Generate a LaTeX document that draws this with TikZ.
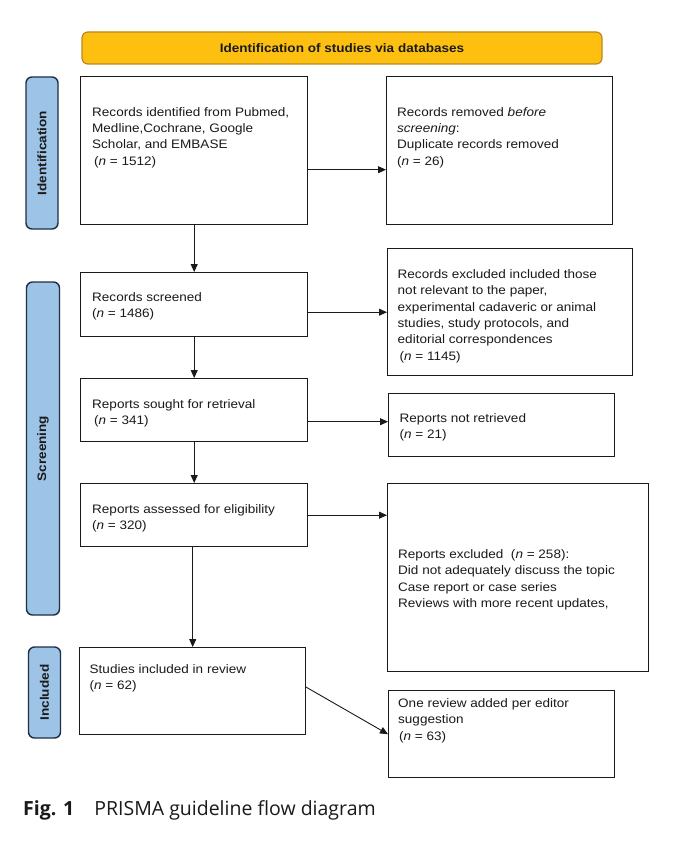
\documentclass[tikz,border=0pt]{standalone}
\usepackage{fontspec}
\setmainfont{Liberation Sans}[FakeStretch=1.1]
\newfontfamily\capfont{Open Sans}
\usetikzlibrary{arrows.meta,calc}
\definecolor{tabblue}{HTML}{9DC3E6}
\definecolor{tabedge}{HTML}{1F2F45}
\definecolor{gold}{HTML}{FDC010}
\definecolor{goldedge}{HTML}{B8891A}
\definecolor{ink}{HTML}{1A1A1A}
\begin{document}
\begin{tikzpicture}[x=1pt,y=-1pt,
  box/.style={draw=ink,line width=1.4pt,inner sep=0pt,anchor=north west,fill=white},
  txt/.style={anchor=north west,inner sep=0pt,align=left,font=\fontsize{12.3pt}{16.4pt}\selectfont,text=ink},
  tab/.style={draw=tabedge,fill=tabblue,line width=1.4pt,rounded corners=6pt,inner sep=0pt},
  tabtxt/.style={rotate=90,font=\fontsize{12.3pt}{14pt}\selectfont\bfseries,text=ink},
  arr/.style={draw=ink,line width=0.9pt,-{Triangle[length=8pt,width=7pt]}}]
\useasboundingbox (0,0) rectangle (678,850);
\fill[white] (0,0) rectangle (678,850);
% title
\node[draw=goldedge,fill=gold,line width=1.2pt,rounded corners=6pt,minimum width=520pt,minimum height=32pt,inner sep=0pt,font=\fontsize{12.3pt}{14pt}\selectfont\bfseries,text=ink] (title) at (342,48) {Identification of studies via databases};
% tabs
\node[tab,minimum width=32pt,minimum height=152pt] (tid) at (42,153) {};
\node[tabtxt] (tidt) at (tid.center) {Identification};
\node[tab,minimum width=33pt,minimum height=333pt] (tsc) at (43,448.5) {};
\node[tabtxt] (tsct) at (tsc.center) {Screening};
\node[tab,minimum width=32pt,minimum height=91pt] (tin) at (44.5,692.5) {};
\node[tabtxt] (tint) at (tin.center) {Included};
% boxes
\node[box,minimum width=227pt,minimum height=148pt] (A) at (80,76) {};
\node[box,minimum width=226pt,minimum height=148pt] (B) at (386,76) {};
\node[box,minimum width=227pt,minimum height=63.5pt] (C) at (80,272) {};
\node[box,minimum width=245pt,minimum height=127pt] (D) at (387,248) {};
\node[box,minimum width=227pt,minimum height=63pt] (E) at (80,378) {};
\node[box,minimum width=226pt,minimum height=63pt] (F) at (388,393) {};
\node[box,minimum width=227pt,minimum height=63pt] (G) at (80,483) {};
\node[box,minimum width=261pt,minimum height=188pt] (H) at (387,483) {};
\node[box,minimum width=225.5pt,minimum height=87pt] (I) at (79,647) {};
\node[box,minimum width=226pt,minimum height=87pt] (J) at (388,690) {};
% texts
\node[txt] (At) at (92,106) {\rule{0pt}{10pt}Records identified from Pubmed,\\Medline,Cochrane, Google\\Scholar, and EMBASE\\\hspace*{2pt}(\textit{n} = 1512)};
\node[txt] (Bt) at (397,106) {\rule{0pt}{10pt}Records removed \textit{before}\\\textit{screening}:\\Duplicate records removed\\(\textit{n} = 26)};
\node[txt] (Ct) at (92,291) {\rule{0pt}{10pt}Records screened\\(\textit{n} = 1486)};
\node[txt] (Dt) at (397.5,268) {\rule{0pt}{10pt}Records excluded included those\\not relevant to the paper,\\experimental cadaveric or animal\\studies, study protocols, and\\editorial correspondences\\\hspace*{2pt}(\textit{n} = 1145)};
\node[txt] (Et) at (92,398) {\rule{0pt}{10pt}Reports sought for retrieval\\\hspace*{2pt}(\textit{n} = 341)};
\node[txt] (Ft) at (399.5,412) {\rule{0pt}{10pt}Reports not retrieved\\(\textit{n} = 21)};
\node[txt] (Gt) at (92,503) {\rule{0pt}{10pt}Reports assessed for eligibility\\(\textit{n} = 320)};
\node[txt] (Ht) at (398,548) {\rule{0pt}{10pt}Reports excluded\ \ (\textit{n} = 258):\\Did not adequately discuss the topic\\Case report or case series\\Reviews with more recent updates,};
\node[txt] (It) at (89.5,663) {\rule{0pt}{10pt}Studies included in review\\(\textit{n} = 62)};
\node[txt] (Jt) at (398,697) {\rule{0pt}{10pt}One review added per editor\\suggestion\\\hspace*{1pt}(\textit{n} = 63)};
% arrows
\draw[arr] ([yshift=-19pt]A.east) -- ([yshift=-19pt]A.east -| B.west);
\draw[arr] (A.south) -- (A.south |- C.north);
\draw[arr] (C.east |- D.west) -- (D.west);
\draw[arr] (C.south) -- (C.south |- E.north);
\draw[arr] ([yshift=-11.5pt]E.east) -- ([yshift=-11.5pt]E.east -| F.west);
\draw[arr] (E.south) -- (E.south |- G.north);
\draw[arr] (G.east) -- (G.east -| H.west);
\draw[arr] ([xshift=-1.5pt]G.south) -- ([xshift=-1.5pt]G.south |- I.north);
\draw[arr] ([yshift=-40pt]I.north east) -- (J.west);
% caption
\node[anchor=base west,inner sep=0pt,font=\capfont\fontsize{19.5pt}{22pt}\selectfont,text=ink] (cap) at (23,815) {\textbf{Fig. 1}\hspace{20pt}PRISMA guideline flow diagram};
\end{tikzpicture}
\end{document}
